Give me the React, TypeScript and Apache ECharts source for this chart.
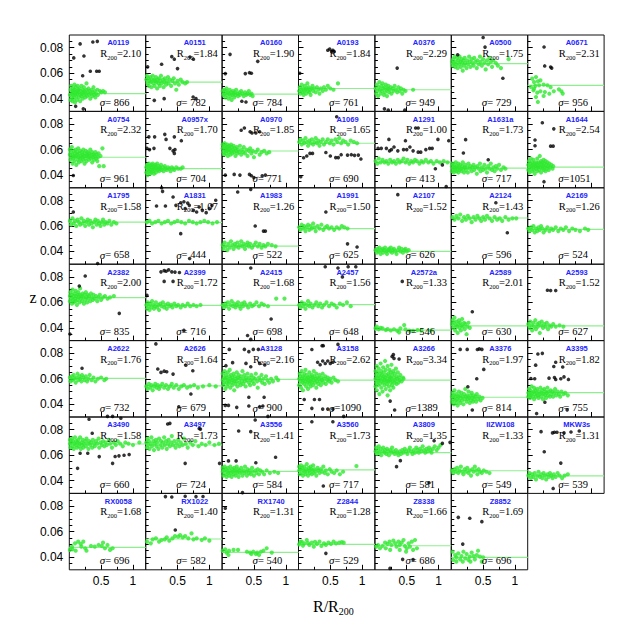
import React, { useEffect, useRef } from "react";
import * as echarts from "echarts";

const names = ["A0119","A0151","A0160","A0193","A0376","A0500","A0671","A0754","A0957x","A0970","A1069","A1291","A1631a","A1644","A1795","A1831","A1983","A1991","A2107","A2124","A2169","A2382","A2399","A2415","A2457","A2572a","A2589","A2593","A2622","A2626","A3128","A3158","A3266","A3376","A3395","A3490","A3497","A3556","A3560","A3809","IIZW108","MKW3s","RX0058","RX1022","RX1740","Z2844","Z8338","Z8852"];
const r200 = ["2.10","1.84","1.90","1.84","2.29","1.75","2.31","2.32","1.70","1.85","1.65","1.00","1.73","2.54","1.58","1.07","1.26","1.50","1.52","1.43","1.26","2.00","1.72","1.68","1.56","1.33","2.01","1.52","1.76","1.64","2.16","2.62","3.34","1.97","1.82","1.58","1.73","1.41","1.73","1.35","1.33","1.31","1.68","1.40","1.31","1.28","1.66","1.69"];
const sigma = [866,782,784,761,949,729,956,961,704,771,690,413,717,1051,658,444,522,625,626,596,524,835,716,698,648,546,630,627,732,679,900,1090,1389,814,755,660,724,584,717,581,549,539,696,582,540,529,686,696];
const zMean = [0.044,0.053,0.0435,0.048,0.047,0.0675,0.0505,0.054,0.045,0.0589,0.065,0.0502,0.0455,0.0463,0.0631,0.0629,0.0442,0.0579,0.040,0.0663,0.0574,0.0638,0.0577,0.0577,0.0582,0.0383,0.0415,0.0415,0.0604,0.0544,0.0596,0.059,0.059,0.0455,0.0492,0.0688,0.068,0.0473,0.0484,0.062,0.0478,0.0437,0.0476,0.0542,0.0437,0.050,0.0489,0.0397];

const xTicks = [0.5, 1];
const xMinorTicks = [0.25, 0.75];
const yTicks = [0.04, 0.06, 0.08];
const yMinorTicks = [0.035, 0.045, 0.05, 0.055, 0.065, 0.07, 0.075, 0.085];

// flattened (R/R200, z) pairs per cluster
const greenPts: number[][] = [
[.01,.043,.02,.047,.02,.039,.03,.050,.04,.044,.04,.041,.05,.046,.05,.038,.06,.048,.06,.043,.07,.045,.07,.040,.08,.051,.08,.047,.09,.043,.09,.037,.10,.045,.10,.049,.11,.042,.12,.046,.12,.039,.13,.044,.13,.050,.14,.047,.15,.041,.15,.045,.16,.048,.17,.043,.17,.038,.18,.046,.19,.050,.19,.042,.20,.044,.21,.047,.21,.040,.22,.045,.23,.043,.23,.049,.24,.046,.25,.041,.26,.044,.27,.047,.27,.052,.28,.042,.29,.045,.30,.048,.31,.043,.32,.046,.33,.040,.34,.044,.35,.047,.36,.042,.37,.045,.38,.049,.39,.043,.40,.046,.41,.041,.42,.044,.44,.047,.45,.043,.48,.046,.50,.045,.53,.046,.56,.045],
[.01,.055,.02,.058,.03,.052,.04,.056,.05,.050,.06,.054,.07,.057,.08,.053,.09,.049,.10,.055,.11,.058,.12,.052,.13,.055,.14,.050,.15,.054,.16,.057,.17,.053,.18,.048,.19,.055,.20,.052,.21,.056,.22,.050,.23,.054,.24,.058,.25,.052,.27,.055,.28,.049,.29,.053,.30,.056,.32,.051,.33,.054,.35,.057,.36,.052,.38,.055,.40,.050,.42,.054,.44,.056,.46,.052,.48,.047,.50,.054,.52,.051,.55,.055,.58,.053,.62,.052,.65,.053],
[.01,.046,.02,.043,.03,.047,.04,.044,.05,.041,.06,.046,.07,.048,.08,.043,.09,.045,.10,.040,.11,.044,.12,.047,.13,.042,.14,.045,.15,.039,.16,.043,.17,.046,.18,.044,.19,.041,.20,.045,.21,.043,.22,.047,.24,.044,.25,.042,.27,.045,.28,.043,.30,.046,.32,.044,.34,.042,.36,.045,.38,.043,.40,.044,.42,.046,.44,.043,.46,.044,.48,.042],
[.01,.046,.02,.049,.03,.044,.04,.047,.05,.051,.06,.045,.07,.048,.08,.043,.09,.046,.10,.050,.11,.047,.12,.044,.13,.048,.14,.052,.15,.046,.16,.049,.17,.045,.18,.047,.19,.043,.20,.048,.22,.050,.23,.046,.25,.048,.27,.045,.29,.049,.31,.047,.33,.044,.35,.048,.38,.046,.40,.049,.43,.047,.46,.050,.50,.048,.55,.047,.62,.052],
[.01,.048,.02,.044,.03,.051,.04,.046,.05,.042,.06,.049,.07,.053,.08,.047,.09,.044,.10,.050,.11,.046,.12,.052,.13,.048,.14,.043,.15,.049,.16,.045,.17,.051,.18,.047,.19,.042,.20,.048,.21,.050,.22,.045,.23,.047,.25,.049,.26,.044,.28,.048,.29,.046,.31,.050,.33,.047,.35,.045,.37,.049,.39,.046,.41,.048,.43,.044,.45,.047,.48,.046,.60,.047],
[.01,.069,.02,.066,.03,.071,.04,.068,.05,.073,.06,.065,.07,.069,.08,.067,.09,.072,.10,.064,.11,.070,.12,.067,.13,.073,.14,.069,.15,.065,.16,.071,.17,.068,.18,.062,.19,.070,.20,.066,.21,.072,.22,.068,.24,.064,.25,.070,.26,.067,.28,.073,.29,.069,.30,.065,.32,.071,.33,.068,.35,.066,.36,.072,.38,.069,.40,.064,.41,.070,.43,.067,.45,.073,.46,.069,.48,.066,.50,.071,.52,.068,.54,.063,.56,.070,.58,.067,.60,.072,.62,.069,.64,.065,.66,.070,.70,.068,.73,.066,.78,.064,.90,.071],
[.07,.0557,.13,.057,.10,.053,.16,.0536,.20,.0544,.12,.050,.18,.0505,.25,.051,.31,.0505,.36,.049,.41,.0458,.49,.0473,.53,.0458,.09,.0466,.15,.0447,.20,.0458,.27,.0452,.13,.0413,.16,.0374,.25,.0421,.34,.0439,.10,.0479,.05,.0492,.55,.044],
[.01,.056,.01,.060,.02,.052,.03,.058,.03,.054,.04,.062,.05,.049,.05,.056,.06,.053,.07,.059,.07,.055,.08,.051,.09,.057,.09,.054,.10,.060,.11,.048,.11,.055,.12,.058,.13,.052,.13,.056,.14,.061,.15,.054,.15,.050,.16,.057,.17,.053,.17,.059,.18,.055,.19,.051,.20,.058,.20,.054,.21,.056,.22,.060,.22,.052,.23,.055,.24,.049,.24,.057,.25,.053,.26,.059,.27,.055,.27,.051,.28,.056,.29,.058,.30,.054,.31,.052,.31,.057,.32,.055,.33,.060,.34,.053,.35,.056,.36,.050,.36,.058,.37,.054,.38,.056,.39,.052,.40,.055,.41,.058,.42,.053,.43,.056,.44,.051,.45,.054,.46,.057,.47,.047,.49,.055,.52,.061,.54,.047],
[.01,.046,.01,.042,.02,.048,.03,.044,.03,.040,.04,.047,.05,.043,.05,.049,.06,.045,.07,.041,.07,.047,.08,.044,.09,.048,.09,.042,.10,.046,.11,.043,.11,.049,.12,.045,.13,.047,.13,.041,.14,.044,.15,.048,.16,.046,.16,.042,.17,.045,.18,.049,.19,.044,.20,.047,.21,.043,.22,.046,.23,.045,.24,.048,.25,.044,.27,.046,.28,.043,.30,.047,.31,.045,.33,.044,.35,.046,.37,.045,.39,.043,.41,.046,.43,.045,.45,.044,.48,.046,.51,.045,.55,.045,.58,.046],
[.01,.061,.01,.064,.02,.058,.03,.062,.03,.056,.04,.065,.05,.060,.05,.063,.06,.057,.07,.061,.07,.059,.08,.064,.09,.055,.09,.062,.10,.060,.11,.058,.11,.063,.12,.061,.13,.056,.14,.059,.14,.064,.15,.062,.16,.057,.17,.060,.18,.063,.19,.058,.20,.061,.21,.055,.22,.059,.23,.062,.24,.057,.25,.060,.27,.058,.28,.063,.30,.056,.31,.060,.33,.058,.34,.062,.36,.057,.38,.060,.40,.055,.42,.059,.44,.061,.46,.057,.48,.059,.50,.054,.53,.058,.56,.060,.59,.056,.62,.058,.66,.059,.70,.057,.74,.058],
[.01,.066,.03,.068,.05,.064,.07,.067,.09,.065,.11,.069,.13,.066,.15,.063,.17,.067,.19,.065,.21,.068,.23,.064,.25,.066,.27,.069,.29,.065,.31,.067,.33,.063,.35,.066,.38,.068,.40,.064,.43,.066,.46,.068,.49,.065,.52,.067,.55,.064,.58,.068,.61,.066,.64,.069,.67,.065,.70,.067,.74,.066,.78,.064,.82,.067,.87,.066,.92,.065],
[.01,.051,.04,.049,.06,.053,.09,.050,.12,.052,.15,.050,.18,.051,.21,.049,.24,.052,.27,.050,.30,.051,.33,.049,.36,.052,.39,.050,.42,.051,.45,.053,.48,.050,.51,.052,.54,.049,.57,.051,.60,.050,.63,.052,.66,.051,.70,.049,.73,.051,.76,.050,.80,.052,.84,.050,.88,.051,.92,.049,.97,.051,1.02,.050,1.08,.051,1.14,.050],
[.01,.047,.01,.043,.02,.049,.03,.045,.04,.042,.04,.048,.05,.046,.06,.044,.07,.050,.07,.046,.08,.043,.09,.047,.10,.045,.11,.049,.11,.042,.12,.046,.13,.044,.14,.048,.15,.045,.16,.043,.17,.047,.18,.050,.19,.045,.20,.042,.21,.046,.22,.048,.23,.044,.25,.046,.26,.042,.27,.049,.29,.045,.30,.047,.32,.043,.33,.046,.35,.048,.36,.044,.38,.046,.40,.041,.41,.047,.43,.045,.45,.049,.46,.043,.48,.046,.50,.044,.52,.048,.54,.045,.56,.042,.58,.047,.60,.045,.62,.049,.64,.044,.66,.046,.68,.043,.70,.047,.72,.045,.75,.048,.78,.044,.82,.046,.85,.045],
[.01,.048,.01,.044,.02,.051,.03,.046,.03,.042,.04,.049,.05,.053,.05,.045,.06,.047,.07,.050,.07,.043,.08,.048,.09,.046,.09,.052,.10,.044,.11,.049,.11,.041,.12,.047,.13,.050,.13,.045,.14,.048,.15,.053,.15,.043,.16,.046,.17,.050,.17,.047,.18,.044,.19,.049,.19,.055,.20,.046,.21,.051,.21,.042,.22,.048,.23,.045,.23,.050,.24,.047,.25,.052,.25,.044,.26,.049,.27,.046,.28,.051,.28,.043,.29,.048,.30,.045,.31,.050,.32,.047,.33,.044,.34,.049,.35,.046,.37,.048,.39,.045,.40,.047],
[.01,.064,.03,.061,.05,.066,.07,.062,.09,.064,.11,.060,.13,.065,.15,.063,.17,.061,.19,.066,.21,.062,.23,.064,.25,.060,.27,.063,.29,.065,.31,.061,.33,.064,.35,.062,.37,.059,.39,.063,.41,.065,.43,.061,.45,.064,.47,.062,.49,.060,.51,.063,.53,.065,.55,.061,.57,.063,.60,.062,.63,.064,.66,.061,.70,.063,.74,.062],
[.02,.063,.06,.064,.10,.062,.15,.063,.20,.064,.25,.062,.30,.063,.35,.064,.40,.062,.45,.063,.50,.064,.56,.063,.62,.062,.68,.064,.74,.063,.80,.062,.86,.063,.92,.064,.98,.063,1.05,.062,1.12,.063],
[.01,.045,.02,.042,.04,.047,.06,.044,.08,.041,.10,.046,.12,.043,.14,.048,.16,.045,.18,.042,.20,.046,.22,.044,.24,.047,.26,.043,.28,.045,.30,.048,.32,.044,.34,.046,.36,.042,.38,.045,.40,.047,.42,.044,.44,.046,.47,.043,.50,.045,.53,.047,.56,.044,.59,.046,.62,.043,.65,.045,.68,.044,.72,.046,.78,.045,.84,.044],
[.01,.059,.03,.057,.05,.061,.07,.058,.09,.060,.11,.056,.13,.059,.15,.061,.17,.057,.19,.060,.21,.058,.23,.062,.25,.059,.27,.056,.30,.060,.33,.058,.36,.061,.39,.057,.42,.059,.45,.060,.48,.058,.52,.059,.56,.057,.60,.059,.64,.058,.68,.060,.72,.059,.77,.058],
[.01,.041,.03,.039,.04,.042,.06,.040,.07,.043,.09,.038,.10,.041,.12,.042,.13,.039,.15,.041,.16,.043,.18,.040,.19,.038,.21,.041,.22,.042,.24,.040,.25,.043,.27,.039,.28,.041,.30,.042,.32,.040,.34,.038,.36,.041,.38,.043,.40,.040,.42,.042,.44,.039,.46,.041,.48,.042,.50,.040,.53,.041],
[.02,.067,.05,.065,.08,.068,.11,.066,.14,.069,.17,.064,.20,.067,.23,.065,.26,.068,.29,.066,.32,.063,.35,.067,.38,.065,.41,.068,.44,.066,.47,.064,.50,.067,.53,.065,.56,.068,.60,.066,.64,.064,.68,.067,.72,.065,.76,.066,.80,.064,.85,.067,.90,.065,.96,.066,1.02,.066],
[.01,.058,.03,.056,.05,.059,.07,.057,.09,.060,.11,.055,.13,.058,.15,.056,.17,.059,.19,.057,.21,.060,.23,.058,.25,.055,.28,.057,.31,.059,.34,.056,.37,.058,.40,.057,.44,.059,.48,.056,.52,.058,.56,.057,.60,.059,.65,.056,.70,.058,.75,.057,.82,.056,.90,.058,.95,.057],
[.01,.065,.01,.061,.02,.068,.03,.063,.04,.059,.04,.066,.05,.070,.06,.062,.07,.065,.07,.060,.08,.067,.09,.063,.10,.069,.10,.061,.11,.065,.12,.058,.13,.066,.13,.062,.14,.068,.15,.064,.16,.060,.17,.066,.17,.071,.18,.063,.19,.065,.20,.061,.21,.067,.22,.064,.23,.059,.24,.066,.25,.062,.26,.068,.27,.064,.28,.060,.29,.066,.30,.063,.31,.065,.33,.061,.34,.067,.35,.064,.37,.062,.38,.066,.40,.063,.42,.065,.44,.061,.46,.064,.48,.066,.50,.062,.53,.064,.56,.065,.60,.063,.64,.064,.70,.065],
[.01,.058,.02,.055,.03,.060,.05,.057,.06,.054,.07,.059,.09,.056,.10,.061,.12,.058,.13,.055,.15,.057,.16,.060,.18,.056,.20,.058,.21,.054,.23,.059,.25,.057,.27,.060,.29,.056,.31,.058,.33,.055,.35,.059,.37,.057,.40,.058,.42,.056,.45,.059,.48,.057,.51,.058,.55,.056,.58,.058,.62,.057,.66,.059,.70,.057,.75,.058,.80,.057,.86,.058],
[.01,.058,.03,.056,.05,.059,.07,.057,.09,.060,.11,.055,.13,.058,.15,.061,.17,.057,.19,.059,.21,.056,.23,.058,.25,.060,.27,.057,.29,.055,.31,.059,.33,.057,.35,.060,.38,.058,.41,.056,.44,.059,.47,.057,.50,.058,.54,.060,.58,.057,.62,.059,.66,.058,.72,.057,.85,.063,.98,.063],
[.01,.058,.03,.056,.05,.060,.07,.057,.09,.059,.11,.055,.13,.058,.15,.061,.17,.057,.19,.059,.22,.056,.25,.058,.28,.060,.31,.057,.34,.059,.37,.056,.40,.058,.44,.060,.48,.057,.52,.059,.56,.058,.60,.056,.65,.059,.70,.058,.76,.060,.82,.057],
[.01,.0396,.03,.041,.06,.0389,.09,.040,.12,.0396,.17,.0383,.20,.039,.25,.038,.30,.0389,.35,.0378,.38,.0365,.40,.0396,.46,.0422,.48,.0389,.54,.0378,.60,.0376,.67,.0383,.73,.0378,.88,.0378],
[.01,.043,.02,.046,.03,.040,.04,.044,.05,.048,.06,.038,.07,.042,.08,.045,.09,.041,.10,.036,.11,.043,.12,.046,.13,.040,.14,.044,.15,.038,.16,.042,.17,.047,.18,.041,.20,.044,.21,.039,.22,.043,.24,.035,.25,.041,.27,.044,.29,.040],
[.01,.043,.03,.040,.04,.045,.06,.042,.07,.038,.09,.044,.10,.041,.12,.046,.13,.039,.15,.043,.16,.041,.18,.044,.19,.036,.21,.042,.22,.045,.24,.040,.26,.043,.28,.041,.30,.044,.32,.039,.34,.042,.37,.041,.40,.043,.44,.041,.50,.042,.56,.041],
[.01,.061,.02,.058,.04,.062,.05,.059,.07,.063,.08,.060,.10,.057,.11,.061,.13,.064,.14,.059,.16,.062,.17,.060,.19,.058,.20,.063,.22,.061,.24,.059,.26,.062,.28,.058,.30,.060,.32,.063,.35,.059,.38,.061,.41,.058,.45,.060,.50,.061,.55,.059,.58,.060],
[.01,.054,.03,.052,.05,.056,.07,.053,.09,.055,.11,.051,.13,.054,.15,.056,.17,.053,.19,.055,.21,.052,.23,.054,.26,.056,.29,.053,.32,.055,.35,.052,.38,.054,.41,.056,.44,.053,.48,.055,.52,.052,.56,.054,.60,.055,.65,.053,.70,.054,.76,.055,.82,.053,.90,.054,1.0,.055,1.1,.054],
[.01,.059,.01,.064,.02,.055,.03,.061,.03,.057,.04,.066,.05,.052,.05,.060,.06,.063,.07,.057,.07,.061,.08,.054,.09,.059,.09,.065,.10,.056,.11,.062,.11,.058,.12,.067,.13,.053,.13,.060,.14,.063,.15,.057,.16,.061,.16,.055,.17,.059,.18,.064,.19,.058,.19,.051,.20,.062,.21,.056,.22,.060,.23,.065,.23,.058,.24,.054,.25,.061,.26,.063,.27,.057,.28,.060,.29,.055,.30,.062,.31,.058,.32,.066,.33,.056,.34,.060,.35,.063,.36,.058,.37,.054,.38,.061,.39,.059,.40,.064,.42,.057,.43,.061,.44,.055,.45,.059,.46,.063,.48,.058,.49,.061,.50,.056,.52,.060,.53,.064,.55,.058,.56,.053,.58,.061,.60,.059,.62,.063,.63,.057,.65,.060,.67,.056,.69,.062,.71,.059,.74,.057,.77,.060,.80,.058,.85,.061,.88,.059],
[.01,.060,.01,.055,.02,.064,.03,.058,.03,.062,.04,.053,.05,.060,.05,.066,.06,.057,.07,.062,.07,.051,.08,.059,.09,.064,.09,.056,.10,.061,.11,.058,.11,.067,.12,.054,.13,.060,.13,.063,.14,.057,.15,.061,.15,.052,.16,.059,.17,.065,.17,.056,.18,.062,.19,.058,.19,.054,.20,.060,.21,.063,.21,.057,.22,.061,.23,.055,.24,.059,.24,.066,.25,.062,.26,.057,.27,.060,.28,.053,.28,.064,.29,.058,.30,.061,.31,.056,.32,.060,.33,.063,.34,.058,.35,.055,.36,.061,.37,.059,.38,.064,.39,.057,.40,.060,.42,.062,.43,.056,.45,.059,.46,.061,.48,.058,.50,.060,.52,.057,.55,.061,.58,.059,.62,.058],
[.01,.060,.01,.066,.01,.054,.02,.063,.02,.057,.03,.070,.03,.051,.04,.061,.04,.065,.05,.058,.05,.055,.06,.068,.06,.062,.07,.048,.07,.059,.08,.064,.08,.056,.09,.072,.09,.061,.10,.053,.10,.066,.11,.058,.11,.063,.12,.060,.12,.050,.13,.069,.13,.057,.14,.062,.14,.065,.15,.055,.15,.059,.16,.074,.16,.061,.17,.052,.17,.067,.18,.058,.18,.063,.19,.056,.19,.060,.20,.070,.20,.047,.21,.064,.21,.058,.22,.054,.22,.062,.23,.067,.23,.059,.24,.061,.24,.051,.25,.065,.25,.057,.26,.060,.26,.071,.27,.055,.27,.063,.28,.058,.29,.066,.29,.053,.30,.061,.31,.057,.31,.064,.32,.059,.33,.068,.34,.056,.34,.062,.35,.060,.36,.065,.37,.057,.38,.061,.39,.059,.40,.063,.42,.058,.44,.061,.45,.060],
[.01,.046,.01,.042,.02,.049,.03,.044,.04,.040,.04,.047,.05,.051,.06,.043,.07,.046,.08,.041,.08,.048,.09,.044,.10,.039,.11,.046,.12,.050,.12,.043,.13,.047,.14,.041,.15,.045,.16,.049,.17,.043,.18,.046,.19,.040,.20,.048,.21,.044,.22,.052,.23,.046,.24,.042,.25,.047,.26,.044,.27,.050,.28,.045,.29,.041,.30,.047,.31,.043,.32,.049,.33,.045,.34,.042,.35,.047,.36,.044,.38,.046,.39,.042,.40,.048,.42,.044,.44,.046,.46,.043,.49,.045],
[.01,.049,.01,.046,.02,.052,.03,.048,.04,.045,.04,.051,.05,.047,.06,.054,.07,.049,.08,.046,.09,.050,.10,.044,.10,.053,.11,.048,.12,.051,.13,.046,.14,.049,.15,.052,.16,.047,.17,.045,.18,.050,.19,.048,.20,.053,.21,.046,.22,.049,.23,.051,.24,.044,.25,.048,.26,.052,.27,.047,.28,.050,.29,.045,.30,.049,.31,.053,.32,.047,.33,.050,.35,.046,.36,.051,.37,.048,.39,.050,.40,.046,.42,.049,.43,.052,.45,.047,.47,.050,.49,.048,.51,.046,.53,.050,.56,.048,.59,.049,.63,.047],
[.01,.069,.01,.072,.02,.066,.03,.070,.04,.073,.05,.067,.06,.071,.07,.065,.08,.069,.09,.074,.10,.068,.11,.071,.12,.066,.13,.070,.14,.072,.15,.067,.16,.069,.17,.074,.18,.065,.19,.070,.20,.068,.21,.072,.22,.066,.23,.069,.25,.071,.26,.067,.27,.073,.29,.069,.30,.065,.31,.071,.33,.068,.34,.070,.36,.066,.37,.072,.39,.069,.40,.067,.42,.071,.44,.069,.46,.073,.47,.066,.49,.070,.51,.068,.53,.071,.55,.067,.57,.070,.59,.068,.62,.072,.64,.069,.67,.066,.70,.070,.73,.068,.76,.071,.80,.069,.84,.067,.88,.070,.93,.069,1.0,.068,1.1,.070],
[.01,.070,.02,.066,.03,.073,.04,.068,.05,.071,.06,.065,.08,.069,.09,.074,.10,.067,.12,.071,.13,.064,.14,.069,.16,.072,.17,.067,.18,.070,.20,.065,.21,.073,.23,.068,.24,.071,.26,.066,.27,.070,.29,.074,.30,.068,.32,.071,.33,.065,.35,.069,.36,.072,.38,.067,.40,.070,.41,.075,.43,.068,.45,.071,.47,.066,.49,.069,.51,.072,.53,.067,.55,.070,.58,.068,.60,.073,.63,.069,.66,.066,.70,.070,.74,.068,.78,.071,.83,.067,.88,.069,.94,.068,1.0,.070,1.08,.068,1.15,.069],
[.01,.047,.01,.050,.02,.044,.03,.048,.04,.051,.05,.045,.06,.049,.07,.043,.08,.047,.09,.050,.10,.046,.11,.044,.12,.048,.13,.051,.14,.046,.15,.043,.16,.049,.17,.047,.18,.045,.19,.050,.20,.048,.21,.044,.22,.047,.23,.051,.24,.046,.25,.049,.26,.043,.27,.048,.28,.046,.30,.050,.31,.047,.32,.044,.34,.048,.35,.046,.36,.051,.38,.047,.39,.044,.40,.049,.42,.046,.43,.048,.45,.045,.47,.050,.48,.047,.50,.044,.52,.048,.54,.046,.56,.049,.58,.045,.60,.048,.63,.047,.66,.045,.70,.048,.75,.046,.82,.047,.88,.046],
[.01,.048,.01,.051,.02,.045,.03,.049,.04,.052,.05,.046,.06,.050,.07,.044,.08,.048,.09,.051,.10,.047,.11,.045,.12,.049,.13,.053,.14,.047,.15,.044,.16,.050,.17,.048,.18,.046,.19,.051,.20,.049,.21,.045,.22,.048,.23,.052,.24,.046,.25,.049,.27,.047,.28,.044,.30,.050,.31,.048,.33,.046,.35,.049,.37,.047,.39,.051,.41,.046,.43,.048,.46,.045,.49,.049,.52,.047,.56,.046,.60,.048,.65,.045,.70,.047,.91,.0515],
[.01,.063,.02,.066,.03,.061,.05,.064,.06,.067,.07,.062,.09,.065,.10,.060,.12,.063,.13,.066,.15,.062,.16,.064,.18,.061,.19,.065,.21,.063,.22,.060,.24,.064,.26,.062,.27,.066,.29,.063,.31,.061,.33,.064,.35,.062,.37,.060,.39,.063,.41,.061,.43,.064,.45,.062,.47,.065,.49,.063,.51,.061,.53,.064,.55,.066,.57,.063,.59,.061,.61,.064,.63,.062,.65,.066,.67,.064,.69,.062,.71,.065,.73,.063,.75,.067,.77,.064,.79,.062,.81,.065,.83,.063,.85,.066,.87,.064,.89,.062,.91,.065,.94,.067,.97,.064,1.0,.066,1.03,.068],
[.01,.048,.03,.046,.05,.049,.07,.047,.09,.050,.11,.046,.13,.048,.15,.051,.17,.047,.19,.045,.21,.049,.23,.047,.25,.050,.27,.046,.29,.048,.31,.044,.33,.049,.35,.047,.37,.051,.39,.048,.41,.045,.43,.049,.45,.047,.48,.046,.51,.048,.55,.047,.60,.046],
[.01,.044,.03,.046,.05,.042,.07,.045,.09,.043,.11,.046,.13,.041,.15,.044,.17,.047,.19,.043,.21,.045,.23,.042,.25,.046,.27,.044,.29,.041,.31,.045,.33,.043,.35,.046,.37,.044,.39,.042,.41,.045,.44,.043,.47,.046,.50,.044,.54,.042,.58,.044,.63,.045],
[.01,.0456,.05,.0461,.04,.0482,.09,.0508,.14,.0521,.18,.0503,.22,.0521,.25,.0469,.27,.045,.34,.0487,.40,.0482,.46,.0495,.51,.0487,.53,.0513,.56,.0469,.60,.0495,.64,.0456,.68,.0469,.19,.0482,.10,.045],
[.02,.0521,.08,.0508,.11,.0539,.16,.0547,.21,.0521,.25,.0534,.30,.0539,.33,.0555,.37,.0529,.42,.0547,.46,.0565,.51,.056,.54,.0573,.58,.0555,.62,.0565,.67,.0547,.72,.0586,.75,.0539,.80,.0547,.88,.0534,.93,.0547,1.0,.0529],
[.01,.045,.05,.0461,.07,.0435,.11,.045,.18,.0456,.25,.0456,.39,.0442,.44,.0435,.46,.0424,.49,.0442,.53,.0424,.55,.0435,.58,.0416,.61,.0442,.65,.045,.70,.0469,.78,.0435,.10,.0416],
[.01,.050,.03,.052,.05,.0521,.07,.049,.09,.0508,.13,.0534,.15,.051,.17,.0495,.21,.0513,.24,.0482,.26,.052,.29,.0503,.33,.0521,.36,.0487,.40,.0508,.43,.0495,.47,.0513,.51,.0503,.55,.0521,.59,.0508,.64,.0513,.68,.0518,.71,.0513],
[.02,.0482,.05,.0495,.08,.0469,.12,.0487,.16,.0513,.20,.0503,.23,.0521,.26,.0495,.29,.0529,.32,.0508,.34,.0482,.37,.0521,.39,.0495,.42,.0513,.45,.0534,.47,.0487,.50,.0469,.53,.0508,.55,.0482,.58,.0521,.60,.0456,.63,.0534,.66,.0469,.17,.0469,.24,.0456,.39,.0456,.49,.0443],
[.02,.0442,.06,.0416,.08,.0398,.11,.0429,.14,.0382,.16,.0408,.19,.0442,.22,.039,.24,.0424,.27,.0377,.29,.0403,.32,.0435,.35,.0408,.37,.0382,.40,.0416,.42,.045,.45,.0403,.48,.0364,.50,.0398,.03,.0377,.08,.0364,.18,.0364,.30,.0364]
];

const blackPts: number[][] = [
[.17,.083,.37,.0845,.44,.085,.07,.072,.23,.0735,.21,.058,.33,.0615,.43,.0615,.47,.0615,.10,.034,.22,.032],
[.03,.065,.25,.067,.41,.073,.45,.071,.695,.0727,.75,.071,.50,.0636,.135,.0387,.29,.040,.745,.0413,.79,.040],
[.125,.0748,.05,.0597,.365,.0597,.43,.0604,.46,.060,.56,.0693,.375,.0374,.31,.038],
[.02,.060,.46,.078,.49,.079,.52,.077,.54,.078,.56,.077],
[.35,.064,.15,.032,.21,.031,.47,.031],
[.50,.088,.53,.0805,.10,.0745,.81,.056],
[.257,.0806,.267,.0657,.36,.0649,.377,.064],
[.063,.0397],
[.05,.070,.14,.070,.30,.072,.32,.068,.45,.070,.56,.067,.02,.061,.06,.060,.13,.061,.38,.061,.43,.059,.45,.057,.46,.060,.25,.030],
[.30,.0752,.35,.077,.44,.074,.47,.073,.53,.073,.59,.074,.05,.040,.19,.0405,.28,.040,.43,.0405,.46,.0395,.50,.038,.63,.0395,.68,.040],
[.08,.0536,.13,.055,.18,.057,.22,.057,.43,.0577,.50,.055,.585,.0537,.625,.0537,.67,.056,.77,.0557,.83,.056,.88,.0555,.94,.0557,.98,.0526,.60,.0858,.035,.0387],
[.05,.061,.10,.061,.18,.061,.23,.059,.26,.060,.22,.068,.48,.067,.50,.060,.55,.062,.60,.059,.68,.058,.72,.058,.80,.060,.86,.061,.90,.061,.99,.068,1.16,.067,.95,.045,1.06,.048,1.12,.031,.45,.060,.36,.059,.30,.062,.64,.077,.68,.077],
[.225,.0678,.19,.0573,.58,.052],
[.23,.0811,.41,.0763,.115,.0675,.115,.063,.36,.0627,.40,.0627,.256,.0348],
[.063,.071,.445,.0305],
[.17,.0757,.31,.0757,.43,.0828,.475,.0762,.55,.0783,.60,.079,.62,.0736,.66,.078,.685,.0762,.75,.0723,.80,.071,.84,.0749,.89,.0723,.95,.0705,1.0,.0736,1.04,.0762,1.10,.0802,.265,.0872,.55,.054,.69,.0345],
[.245,.0867,.45,.0888,.52,.060,.65,.056,.68,.056],
[.43,.071,.77,.046,.92,.0435],
[.36,.0846],
[.70,.0783,.88,.0547],
[],
[.25,.0807,.157,.0729,.785,.0514,.01,.0352],
[.24,.084,.29,.085,.32,.0845,.36,.0855,.41,.084,.46,.0838,.53,.0835,.29,.0765,.43,.0765,.02,.0655,.60,.038],
[.45,.087,.77,.047,.40,.034,.45,.031],
[.42,.088,.62,.087,.69,.080,.78,.088,.90,.088],
[.43,.0765],
[.33,.0527],
[.31,.0695,.36,.0693,.44,.0693],
[.20,.0683,.60,.0305,.68,.0305],
[.16,.0874,.19,.0677,.24,.065,.29,.066,.33,.0655,.43,.0637,.63,.0706,.74,.0663,.71,.0481,.52,.038],
[.113,.0831,.35,.0831,.42,.0813,.49,.0831,.57,.0831,.06,.0703,.165,.0727,.375,.0721,.45,.0695,.59,.0721,.67,.0708,.05,.0391,.10,.0391,.23,.0376,.42,.0386,.59,.0381,.64,.0386,.42,.0455,.66,.0455,.72,.0305],
[.21,.083,.37,.086,.39,.086,.30,.073,.34,.071,.38,.074,.42,.072,.46,.074,.50,.072,.54,.073,.62,.087,.09,.0437,.25,.0437,.33,.0437,.21,.0368,.38,.0362,.46,.0362,.54,.0362,.71,.0305],
[.27,.0775,.29,.079,.30,.076,.38,.0755,.24,.0425,.31,.0355],
[.14,.0831,.25,.0831,.41,.083,.44,.0835,.48,.0831,.51,.0674,.40,.060,.26,.0538,.33,.0355],
[.16,.0795,.23,.080,.125,.0707,.05,.0602,.11,.060,.44,.073,.41,.0697,.55,.0693,.335,.0605,.42,.061,.44,.0595,.52,.060,.57,.0615,.64,.0595,.27,.0416,.62,.0356,.14,.0327],
[.31,.0882,.81,.089,.36,.0772,.17,.0615,.29,.0615,.47,.0589,.72,.059,.78,.0595,.86,.060,.94,.0605,.68,.0536,.13,.0497],
[.345,.0845,.38,.085,.84,.081,.86,.0805,.62,.0536,1.16,.0536],
[.26,.079,.45,.0785,.52,.0876,.10,.0555,.22,.0555,.53,.0541,.84,.0584,.32,.0306],
[.21,.0863,.54,.0863,.39,.0358],
[.34,.051,.40,.0557,.93,.0714,1.06,.0693,1.18,.0701,.85,.0384],
[],
[.21,.0785,.39,.0775,.42,.078,.46,.078,.57,.0775,.68,.0782,.81,.079,.26,.0627,.52,.0538,.40,.0339],
[],
[.31,.0875,.41,.0872,.62,.0878,.79,.0875,.90,.0876,.465,.0613],
[.05,.0783],
[.43,.0429],
[.237,.0311,.436,.0382,.60,.038],
[.11,.0712,.29,.0705,.48,.0678,.18,.0502]
];

// layout constants
const GX = 69.3;
const GY = 35;
const CELL = 76.4;
const NCOL = 7;
const SERIF = "Liberation Serif";
const SANS = "Liberation Sans";

function pairs(a: number[]): number[][] {
  const out: number[][] = [];
  for (let i = 0; i + 1 < a.length; i += 2) out.push([a[i], a[i + 1]]);
  return out;
}

function buildOption() {
  const grid: any[] = [];
  const xAxis: any[] = [];
  const yAxis: any[] = [];
  const series: any[] = [];
  const graphic: any[] = [];
  const n = names.length;
  const lastRow = Math.floor((n - 1) / NCOL);
  for (let i = 0; i < n; i++) {
    const col = i % NCOL;
    const row = Math.floor(i / NCOL);
    const left = GX + col * CELL;
    const top = GY + row * CELL;
    grid.push({ left, top, width: CELL, height: CELL, show: true, borderColor: "#111", borderWidth: 1, backgroundColor: "transparent" });
    const showX = row === lastRow;
    const showY = col === 0;
    const baseX = { type: "value", gridIndex: i, min: 0, max: 1.2, position: "bottom", axisLine: { show: false }, splitLine: { show: false } };
    xAxis.push({ ...baseX,
      axisTick: { show: true, inside: true, length: 5, customValues: xTicks, lineStyle: { color: "#000", width: 1 } },
      axisLabel: { show: showX, customValues: xTicks, formatter: (v: number) => String(v), margin: 5, fontSize: 12, color: "#000", fontFamily: SANS } });
    xAxis.push({ ...baseX,
      axisTick: { show: true, inside: true, length: 3, customValues: xMinorTicks, lineStyle: { color: "#000", width: 1 } },
      axisLabel: { show: false } });
    const baseY = { type: "value", gridIndex: i, min: 0.03, max: 0.09, position: "left", axisLine: { show: false }, splitLine: { show: false } };
    yAxis.push({ ...baseY,
      axisTick: { show: true, inside: true, length: 5, customValues: yTicks, lineStyle: { color: "#000", width: 1 } },
      axisLabel: { show: showY, customValues: yTicks, formatter: (v: number) => v.toFixed(2), margin: 6, fontSize: 12, color: "#000", fontFamily: SANS } });
    yAxis.push({ ...baseY,
      axisTick: { show: true, inside: true, length: 3, customValues: yMinorTicks, lineStyle: { color: "#000", width: 1 } },
      axisLabel: { show: false } });
    const xi = 2 * i;
    series.push({ type: "line", xAxisIndex: xi, yAxisIndex: xi, data: [[0, zMean[i]], [1.2, zMean[i]]], symbol: "none", silent: true, lineStyle: { color: "#8fee8f", width: 1.2 }, z: 1 });
    series.push({ type: "scatter", xAxisIndex: xi, yAxisIndex: xi, data: pairs(greenPts[i]), symbol: "circle", symbolSize: 4.2, itemStyle: { color: "#2ee82e" }, silent: true, z: 2 });
    series.push({ type: "scatter", xAxisIndex: xi, yAxisIndex: xi, data: pairs(blackPts[i]), symbol: "circle", symbolSize: 3.6, itemStyle: { color: "#000" }, silent: true, z: 3 });

    graphic.push({ type: "text", x: left + 49, y: top + 7.8, silent: true, z: 10,
      style: { text: names[i], fill: "#2424ff", fontSize: 7.5, fontWeight: "bold", fontFamily: SANS, textAlign: "center", align: "center", textVerticalAlign: "middle", verticalAlign: "middle" } });
    graphic.push({ type: "text", x: left + 31, y: top + 18.5, silent: true, z: 10,
      style: { text: "{a|R}{b|200}{a|=" + r200[i] + "}", fill: "#000", textAlign: "left", align: "left", textVerticalAlign: "middle", verticalAlign: "middle",
        rich: { a: { fontSize: 10.5, fontFamily: SERIF, lineHeight: 14, fill: "#000" }, b: { fontSize: 6.5, fontFamily: SERIF, lineHeight: 7, verticalAlign: "bottom", fill: "#000" } } } });
    const s = sigma[i] >= 1000 ? "=" + sigma[i] : "= " + sigma[i];
    graphic.push({ type: "text", x: left + 30.5, y: top + 67, silent: true, z: 10,
      style: { text: "{s|σ}{a|" + s + "}", fill: "#000", textAlign: "left", align: "left", textVerticalAlign: "middle", verticalAlign: "middle",
        rich: { s: { fontSize: 11, fontFamily: SERIF, fontStyle: "italic", fill: "#000" }, a: { fontSize: 10.5, fontFamily: SERIF, fill: "#000" } } } });
  }
  graphic.push({ type: "text", x: 33, y: 297, silent: true,
    style: { text: "z", fill: "#000", fontSize: 16, fontFamily: SERIF, textAlign: "center", align: "center", textVerticalAlign: "middle", verticalAlign: "middle" } });
  graphic.push({ type: "text", x: 313, y: 606, silent: true,
    style: { text: "{a|R/R}{b|200}", fill: "#000", textAlign: "left", align: "left", textVerticalAlign: "middle", verticalAlign: "middle",
      rich: { a: { fontSize: 16, fontFamily: SERIF, lineHeight: 20, fill: "#000" }, b: { fontSize: 10, fontFamily: SERIF, lineHeight: 10, verticalAlign: "bottom", fill: "#000" } } } });
  return { animation: false, backgroundColor: "#fff", grid, xAxis, yAxis, series, graphic };
}

export default function App() {
  const ref = useRef<HTMLDivElement>(null);
  useEffect(() => {
    if (!ref.current) return;
    const chart = echarts.init(ref.current, undefined, { renderer: "svg" });
    chart.setOption(buildOption() as any);
    return () => chart.dispose();
  }, []);
  return <div ref={ref} style={{ position: "fixed", left: 0, top: 0, width: 638, height: 638, background: "#fff" }} />;
}
